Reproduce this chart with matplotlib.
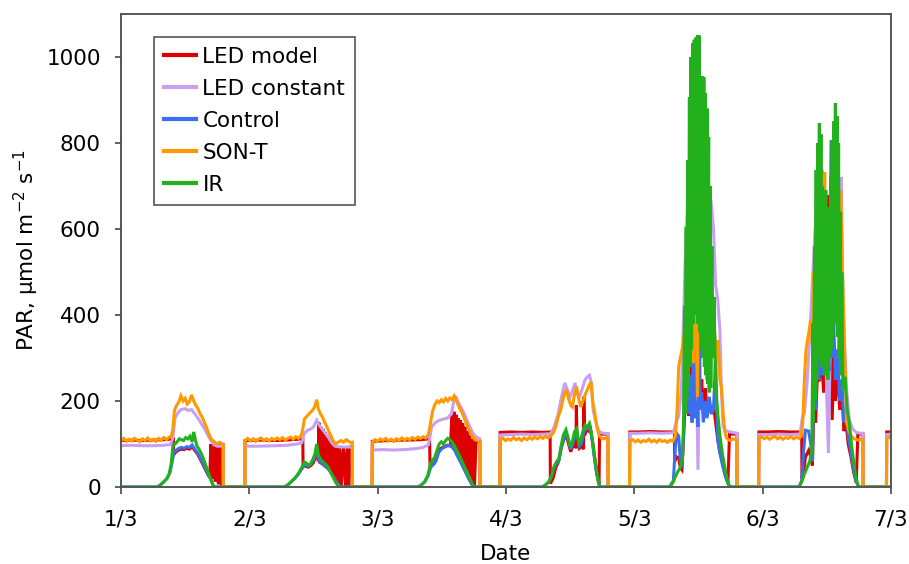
import numpy as np
import matplotlib
matplotlib.use("Agg")
import matplotlib.pyplot as plt

# ===============================
# Data: (hour since 1/3 00:00, PAR)
# ===============================
day_labels = ["1/3", "2/3", "3/3", "4/3", "5/3", "6/3", "7/3"]

led_model = [
    (0, 108), (2, 109), (4, 108), (6, 109), (8, 110), (9.8, 112), (9.85, 75), (10.3, 82), (10.8, 86),
    (11.3, 88), (11.8, 87), (12.3, 90), (12.8, 88), (13.3, 94), (13.8, 85), (14.3, 77), (14.8, 65),
    (15.3, 53), (15.8, 40), (16.3, 28), (16.6, 22), (16.8, 100), (17.0, 20), (17.3, 98), (17.6, 12),
    (17.9, 100), (18.2, 6), (18.5, 100), (18.8, 3), (19.0, 98), (19.1, 98), (19.12, 0), (23.18, 0),
    (23.2, 108), (26, 109), (29, 108), (32, 110), (34.0, 112), (34.05, 50), (34.5, 48), (35.0, 46),
    (35.5, 50), (36.0, 57), (36.4, 72), (36.7, 82), (36.9, 60), (37.0, 150), (37.2, 55), (37.4, 140),
    (37.6, 52), (37.8, 135), (38.0, 48), (38.2, 128), (38.4, 44), (38.6, 120), (38.8, 40), (39.0, 115),
    (39.2, 34), (39.4, 105), (39.6, 26), (39.8, 100), (40.0, 18), (40.3, 95), (40.6, 8), (40.9, 93),
    (41.2, 2), (41.6, 93), (42.0, 0), (42.3, 93), (42.6, 0), (42.9, 93), (43.25, 93), (43.27, 0),
    (46.95, 0), (47.0, 106), (50, 108), (53, 109), (56, 110), (57.7, 112), (57.8, 50), (58.2, 52),
    (58.6, 55), (59.1, 75), (59.6, 88), (60.1, 92), (60.6, 95), (61.1, 97), (61.6, 95), (61.9, 170),
    (62.1, 92), (62.3, 175), (62.5, 85), (62.7, 168), (62.9, 76), (63.1, 160), (63.3, 66), (63.5, 155),
    (63.7, 58), (63.9, 148), (64.1, 48), (64.3, 140), (64.5, 38), (64.7, 130), (64.9, 26), (65.1, 120),
    (65.3, 16), (65.5, 112), (65.7, 8), (65.9, 108), (66.1, 2), (66.4, 106), (67.12, 106), (67.14, 0),
    (70.85, 0), (70.9, 127), (73, 128), (75, 127), (77, 128), (79, 127), (80.25, 128), (80.3, 8),
    (80.8, 20), (81.3, 45), (81.8, 58), (82.3, 90), (82.8, 110), (83.3, 120), (83.7, 100), (84.1, 82),
    (84.5, 95), (84.9, 112), (85.1, 90), (85.15, 190), (85.3, 110), (85.7, 90), (86.1, 95), (86.5, 88),
    (86.55, 210), (86.7, 120), (87.0, 132), (87.4, 130), (87.8, 135), (88.2, 105), (88.6, 65),
    (89.0, 30), (89.4, 8), (89.5, 123), (91.05, 123), (91.08, 0), (95.1, 0), (95.15, 128), (97, 128),
    (99, 129), (101, 128), (103.5, 128), (103.55, 60), (103.9, 70), (104.3, 68), (104.6, 45),
    (104.9, 40), (105.2, 110), (105.5, 200), (105.7, 170), (106.0, 250), (106.2, 165), (106.5, 300),
    (106.8, 180), (107.1, 500), (107.3, 200), (107.5, 777), (107.7, 180), (108.0, 300), (108.3, 190),
    (108.6, 250), (108.9, 170), (109.3, 230), (109.6, 165), (110.0, 200), (110.4, 170), (110.8, 190),
    (111.2, 150), (111.6, 110), (112.0, 80), (112.5, 55), (113.0, 30), (113.5, 10), (113.8, 123),
    (115.18, 123), (115.2, 0), (119.25, 0), (119.3, 128), (121, 128), (123, 129), (125, 128),
    (127.3, 128), (127.35, 20), (127.7, 40), (128.0, 70), (128.6, 85), (129.0, 70), (129.3, 50),
    (129.6, 200), (129.9, 150), (130.2, 250), (130.6, 249), (131.0, 300), (131.4, 220), (131.7, 400),
    (132.1, 679), (132.3, 250), (132.6, 350), (133.0, 156), (133.3, 300), (133.6, 200), (134.0, 280),
    (134.4, 180), (134.8, 220), (135.2, 130), (135.6, 150), (136.0, 100), (136.5, 70), (137.0, 35),
    (137.5, 10), (137.8, 123), (138.75, 123), (138.78, 0), (143.15, 0), (143.2, 128), (144, 128),
]

led_constant = [
    (0, 96), (2, 97), (4, 96), (6, 96), (8, 97), (9.3, 99), (9.7, 115), (10.1, 160), (10.6, 172),
    (11.2, 180), (12.0, 182), (12.6, 178), (13.2, 180), (13.8, 170), (14.4, 160), (15.0, 148),
    (15.6, 136), (16.2, 122), (16.8, 108), (17.4, 98), (18.0, 95), (19.1, 95), (19.12, 0), (23.18, 0),
    (23.2, 95), (26, 95), (29, 96), (31, 97), (33, 100), (33.8, 103), (34.3, 125), (34.9, 132),
    (35.5, 135), (36.0, 140), (36.6, 155), (37.0, 145), (37.6, 135), (38.2, 125), (38.8, 115),
    (39.4, 103), (40.0, 95), (41, 93), (42, 93), (43.25, 93), (43.27, 0), (46.95, 0),
    (47.0, 86), (49, 87), (51, 86), (53, 87), (55, 89), (56.5, 92), (57.5, 98), (58.1, 140),
    (58.8, 150), (59.5, 155), (60.3, 158), (61.0, 160), (61.8, 170), (62.3, 205), (62.7, 208),
    (63.1, 196), (63.6, 185), (64.2, 170), (64.8, 152), (65.4, 135), (66.0, 122), (66.6, 115),
    (67.12, 112), (67.14, 0), (70.85, 0), (70.9, 121), (73, 122), (75, 123), (77, 122), (79, 123),
    (80.4, 124), (81.0, 140), (81.7, 167), (82.4, 210), (83.0, 242), (83.5, 225), (84.0, 210),
    (84.4, 222), (84.9, 242), (85.4, 215), (85.8, 212), (86.3, 230), (86.8, 250), (87.2, 256),
    (87.6, 260), (88.0, 240), (88.3, 179), (88.8, 150), (89.3, 132), (89.8, 126), (90.5, 125),
    (91.05, 124), (91.08, 0), (95.1, 0), (95.15, 125), (97, 125), (99, 126), (101, 125), (103.3, 126),
    (103.8, 150), (104.3, 165), (104.8, 226), (105.1, 350), (105.5, 520), (105.9, 650), (106.4, 720),
    (106.8, 760), (107.2, 600), (107.6, 300), (107.9, 40), (108.2, 300), (108.6, 700), (109.0, 760),
    (109.5, 700), (110.0, 690), (110.4, 660), (110.8, 600), (111.2, 470), (111.6, 435), (112.0, 365),
    (112.3, 220), (112.6, 140), (113.2, 130), (114.0, 128), (114.8, 126), (115.18, 125), (115.2, 0),
    (119.25, 0), (119.3, 122), (121, 122), (123, 123), (125, 122), (127.0, 123), (127.4, 160),
    (127.8, 172), (128.3, 240), (128.8, 350), (129.3, 480), (129.8, 600), (130.4, 650), (131.0, 600),
    (131.6, 450), (132.0, 200), (132.3, 79), (132.6, 300), (133.0, 550), (133.5, 650), (134.0, 690),
    (134.4, 700), (134.7, 721), (135.0, 442), (135.4, 300), (135.7, 226), (136.2, 156), (136.8, 135),
    (137.5, 127), (138.2, 125), (138.75, 125), (138.78, 0), (143.15, 0), (143.2, 122), (144, 123),
]

control = [
    (0, 0), (6.8, 0), (7.4, 5), (8.0, 12), (8.6, 20), (9.2, 35), (9.6, 60), (9.9, 80), (10.3, 85),
    (10.8, 90), (11.3, 92), (11.8, 90), (12.3, 94), (12.8, 92), (13.3, 98), (13.8, 88), (14.3, 80),
    (14.8, 68), (15.3, 56), (15.8, 42), (16.3, 30), (16.8, 18), (17.2, 5), (17.5, 0),
    (30.5, 0), (31.2, 5), (31.8, 12), (32.5, 20), (33.2, 30), (33.8, 42), (34.3, 50), (34.8, 48),
    (35.4, 52), (35.9, 60), (36.4, 75), (36.7, 85), (37.0, 62), (37.5, 55), (38.0, 50), (38.5, 45),
    (39.0, 38), (39.5, 28), (40.0, 18), (40.5, 8), (41.0, 0),
    (55.5, 0), (56.2, 5), (56.8, 12), (57.4, 25), (57.9, 45), (58.4, 52), (58.9, 60), (59.4, 80),
    (59.9, 88), (60.4, 92), (60.9, 95), (61.4, 97), (61.9, 93), (62.4, 85), (62.9, 72), (63.4, 60),
    (63.9, 48), (64.4, 35), (64.9, 22), (65.4, 10), (65.9, 0),
    (78.8, 0), (79.4, 5), (80.0, 12), (80.5, 25), (81.0, 45), (81.5, 55), (81.9, 62), (82.4, 95),
    (82.9, 115), (83.3, 125), (83.7, 108), (84.1, 88), (84.5, 100), (84.9, 120), (85.3, 125),
    (85.7, 95), (86.1, 100), (86.5, 125), (86.9, 138), (87.3, 135), (87.7, 140), (88.1, 110),
    (88.5, 70), (88.9, 35), (89.3, 10), (89.6, 0),
    (102.6, 0), (103.3, 15), (103.6, 80), (103.9, 125), (104.3, 118), (104.6, 60), (104.9, 47),
    (105.2, 120), (105.5, 326), (105.7, 180), (106.0, 300), (106.2, 170), (106.5, 260), (106.8, 150),
    (107.1, 400), (107.3, 160), (107.6, 200), (107.9, 140), (108.1, 660), (108.3, 180), (108.6, 220),
    (108.9, 150), (109.3, 200), (109.6, 160), (110.0, 210), (110.4, 170), (110.8, 180), (111.2, 300),
    (111.6, 110), (112.0, 80), (112.5, 50), (113.0, 25), (113.5, 8), (114.0, 0),
    (126.8, 0), (127.3, 15), (127.7, 90), (128.0, 132), (128.6, 130), (129.0, 100), (129.3, 60),
    (129.6, 250), (129.9, 180), (130.2, 300), (130.5, 249), (130.8, 350), (131.1, 260), (131.4, 400),
    (131.7, 300), (132.0, 350), (132.4, 270), (132.8, 807), (133.0, 300), (133.3, 380), (133.6, 250),
    (134.0, 320), (134.4, 200), (134.8, 250), (135.2, 150), (135.6, 180), (136.0, 120), (136.5, 80),
    (137.0, 40), (137.5, 12), (138.0, 0), (144, 0),
]

son_t = [
    (0.0, 108), (0.5, 113), (1.0, 106), (1.5, 111), (2.0, 107), (2.5, 113), (3.0, 109), (3.5, 105),
    (4.0, 112), (4.5, 108), (5.0, 114), (5.5, 107), (6.0, 111), (6.5, 106), (7.0, 113), (7.5, 109),
    (8.0, 115), (8.5, 110), (9.0, 116), (9.4, 118), (9.7, 135), (10.0, 178), (10.4, 190), (10.8, 197),
    (11.2, 212), (11.6, 200), (12.0, 206), (12.4, 193), (12.8, 199), (13.2, 214), (13.6, 200),
    (14.0, 190), (14.4, 182), (14.8, 170), (15.2, 162), (15.6, 150), (16.0, 138), (16.4, 124),
    (16.8, 113), (17.2, 108), (17.6, 103), (18.0, 100), (18.4, 104), (18.8, 101), (19.1, 100),
    (19.12, 0), (23.18, 0),
    (23.2, 108), (23.7, 113), (24.2, 107), (24.7, 112), (25.2, 106), (25.7, 111), (26.2, 114),
    (26.7, 108), (27.2, 112), (27.7, 107), (28.2, 113), (28.7, 109), (29.2, 114), (29.7, 110),
    (30.2, 115), (30.7, 109), (31.2, 113), (31.7, 116), (32.2, 111), (32.7, 117), (33.2, 113),
    (33.7, 120), (34.0, 135), (34.3, 158), (34.8, 165), (35.3, 172), (35.8, 178), (36.2, 186),
    (36.6, 203), (36.9, 182), (37.3, 170), (37.7, 162), (38.1, 150), (38.5, 140), (38.9, 128),
    (39.3, 118), (39.7, 107), (40.1, 100), (40.6, 104), (41.1, 108), (41.6, 104), (42.1, 110),
    (42.6, 106), (43.0, 103), (43.25, 104), (43.27, 0), (46.95, 0),
    (47.0, 104), (47.5, 110), (48.0, 106), (48.5, 112), (49.0, 108), (49.5, 113), (50.0, 107),
    (50.5, 111), (51.0, 106), (51.5, 112), (52.0, 108), (52.5, 114), (53.0, 109), (53.5, 113),
    (54.0, 110), (54.5, 115), (55.0, 111), (55.5, 116), (56.0, 113), (56.5, 117), (57.0, 114),
    (57.5, 122), (57.9, 150), (58.3, 178), (58.7, 192), (59.1, 200), (59.5, 196), (59.9, 203),
    (60.3, 198), (60.7, 206), (61.1, 200), (61.5, 207), (61.9, 203), (62.3, 212), (62.6, 205),
    (63.0, 192), (63.4, 182), (63.8, 172), (64.2, 160), (64.6, 148), (65.0, 136), (65.4, 124),
    (65.8, 116), (66.2, 110), (66.6, 108), (67.12, 106), (67.14, 0), (70.85, 0),
    (70.9, 110), (71.4, 114), (71.9, 108), (72.4, 112), (72.9, 109), (73.4, 115), (73.9, 110),
    (74.4, 113), (74.9, 108), (75.4, 114), (75.9, 110), (76.4, 115), (76.9, 111), (77.4, 116),
    (77.9, 112), (78.4, 117), (78.9, 113), (79.4, 118), (79.9, 114), (80.4, 119), (80.8, 125),
    (81.3, 140), (81.8, 165), (82.3, 182), (82.8, 212), (83.3, 226), (83.7, 205), (84.1, 190),
    (84.4, 186), (84.8, 215), (85.2, 233), (85.6, 205), (86.0, 186), (86.4, 200), (86.8, 215),
    (87.2, 226), (87.6, 238), (87.9, 244), (88.2, 200), (88.6, 172), (89.0, 140), (89.4, 120),
    (89.8, 114), (90.3, 112), (90.8, 115), (91.05, 113), (91.08, 0), (95.1, 0),
    (95.15, 107), (95.7, 110), (96.2, 105), (96.7, 109), (97.2, 104), (97.7, 108), (98.2, 106),
    (98.7, 111), (99.2, 105), (99.7, 109), (100.2, 104), (100.7, 110), (101.2, 106), (101.7, 108),
    (102.2, 104), (102.7, 109), (103.2, 106), (103.7, 120), (104.0, 180), (104.3, 280), (104.6, 300),
    (104.9, 318), (105.2, 340), (105.5, 380), (105.8, 300), (106.0, 560), (106.3, 680), (106.5, 767),
    (106.7, 777), (106.9, 400), (107.1, 288), (107.4, 713), (107.6, 500), (107.8, 210), (108.1, 650),
    (108.3, 400), (108.6, 520), (108.9, 300), (109.2, 470), (109.5, 249), (109.8, 420), (110.1, 300),
    (110.4, 365), (110.7, 330), (111.0, 365), (111.4, 290), (111.7, 342), (112.0, 249), (112.3, 230),
    (112.6, 172), (112.9, 130), (113.2, 115), (113.6, 110), (114.0, 108), (114.5, 112), (115.0, 110),
    (115.18, 108), (115.2, 0), (119.25, 0),
    (119.3, 113), (119.8, 117), (120.3, 112), (120.8, 116), (121.3, 111), (121.8, 115), (122.3, 118),
    (122.8, 112), (123.3, 116), (123.8, 111), (124.3, 115), (124.8, 113), (125.3, 117), (125.8, 112),
    (126.3, 116), (126.8, 113), (127.2, 118), (127.5, 149), (127.8, 250), (128.1, 319), (128.5, 350),
    (129.0, 388), (129.3, 330), (129.6, 500), (129.9, 420), (130.2, 600), (130.5, 480), (130.8, 680),
    (131.1, 737), (131.3, 500), (131.6, 732), (131.9, 450), (132.2, 620), (132.5, 400), (132.8, 700),
    (133.1, 500), (133.4, 807), (133.7, 600), (134.0, 720), (134.3, 650), (134.6, 690), (134.9, 520),
    (135.2, 381), (135.5, 250), (135.7, 149), (136.1, 130), (136.6, 118), (137.1, 112), (137.6, 110),
    (138.0, 109), (138.5, 112), (138.75, 110), (138.78, 0), (143.15, 0),
    (143.2, 112), (143.6, 116), (144, 114),
]

ir = [
    (0, 0), (6.8, 0), (7.4, 5), (8.0, 12), (8.6, 20), (9.0, 30), (9.4, 55), (9.7, 95), (10.1, 100),
    (10.5, 105), (10.9, 112), (11.3, 110), (11.7, 108), (12.1, 115), (12.5, 112), (12.9, 118),
    (13.3, 105), (13.6, 128), (13.9, 110), (14.2, 95), (14.6, 88), (15.0, 78), (15.4, 66), (15.8, 52),
    (16.2, 38), (16.6, 24), (17.0, 10), (17.4, 0),
    (30.5, 0), (31.2, 5), (31.8, 12), (32.5, 20), (33.2, 32), (33.8, 45), (34.3, 58), (34.7, 55),
    (35.1, 50), (35.5, 55), (35.9, 65), (36.3, 78), (36.6, 100), (36.9, 75), (37.3, 65), (37.7, 60),
    (38.1, 55), (38.5, 50), (38.9, 42), (39.3, 32), (39.7, 22), (40.1, 12), (40.5, 4), (40.9, 0),
    (55.5, 0), (56.2, 5), (56.8, 12), (57.4, 28), (57.9, 55), (58.3, 62), (58.7, 70), (59.1, 85),
    (59.5, 100), (59.9, 105), (60.3, 100), (60.7, 108), (61.1, 113), (61.5, 110), (61.9, 105),
    (62.3, 97), (62.7, 88), (63.1, 78), (63.5, 68), (63.9, 56), (64.3, 45), (64.7, 35), (65.1, 24),
    (65.5, 12), (65.9, 3), (66.2, 0),
    (78.8, 0), (79.4, 5), (80.0, 12), (80.5, 25), (81.0, 48), (81.5, 60), (81.9, 65), (82.3, 95),
    (82.7, 120), (83.2, 133), (83.6, 115), (84.0, 93), (84.4, 105), (84.8, 128), (85.2, 135),
    (85.6, 102), (86.0, 110), (86.4, 130), (86.8, 144), (87.2, 140), (87.6, 148), (87.9, 130),
    (88.3, 95), (88.7, 60), (89.1, 25), (89.4, 5), (89.6, 0),
    (102.6, 0), (103.2, 10), (103.6, 22), (104.1, 35), (104.6, 45), (105.0, 65), (105.2, 150),
    (105.4, 420), (105.5, 170), (105.7, 605), (105.8, 200), (106.0, 760), (106.1, 230), (106.3, 907),
    (106.4, 280), (106.6, 1000), (106.7, 320), (106.9, 1032), (107.0, 380), (107.2, 1040),
    (107.3, 400), (107.5, 1045), (107.6, 420), (107.8, 1051), (107.9, 380), (108.1, 1050),
    (108.2, 360), (108.4, 946), (108.5, 320), (108.7, 955), (108.8, 300), (109.0, 953), (109.1, 280),
    (109.3, 916), (109.4, 260), (109.6, 880), (109.7, 240), (109.9, 814), (110.0, 220), (110.2, 700),
    (110.3, 230), (110.5, 560), (110.7, 300), (110.9, 442), (111.2, 230), (111.6, 170), (112.0, 120),
    (112.5, 75), (113.0, 40), (113.4, 15), (113.8, 0),
    (126.8, 0), (127.3, 12), (127.8, 30), (128.3, 45), (128.8, 60), (129.2, 86), (129.4, 380),
    (129.5, 150), (129.7, 560), (129.8, 200), (130.0, 737), (130.1, 250), (130.3, 800), (130.4, 300),
    (130.6, 846), (130.7, 320), (130.9, 820), (131.0, 280), (131.2, 700), (131.3, 300), (131.5, 650),
    (131.6, 260), (131.8, 690), (131.9, 280), (132.1, 600), (132.2, 250), (132.4, 650), (132.5, 300),
    (132.7, 720), (132.8, 320), (133.0, 807), (133.1, 350), (133.3, 850), (133.4, 380), (133.6, 893),
    (133.7, 400), (133.9, 863), (134.0, 350), (134.2, 800), (134.3, 300), (134.5, 640), (134.6, 260),
    (134.8, 500), (135.0, 226), (135.4, 256), (135.8, 180), (136.2, 149), (136.6, 100), (137.0, 60),
    (137.4, 25), (137.8, 5), (138.0, 0), (144, 0),
]

series = [
    ("LED model", led_model, "#dd0000"),
    ("LED constant", led_constant, "#c8a0f2"),
    ("Control", control, "#3b6ff0"),
    ("SON-T", son_t, "#ff9900"),
    ("IR", ir, "#22b01c"),
]

# ===============================
# Plot
# ===============================
plt.rcParams["font.family"] = ["DejaVu Sans"]
plt.rcParams["mathtext.default"] = "regular"

fig = plt.figure(figsize=(9.09, 5.64), dpi=100)
ax = fig.add_axes([121 / 909, 77 / 564, 770 / 909, 473 / 564])

for name, pts, color in series:
    t, v = zip(*pts)
    ax.plot(np.array(t) / 24.0, v, color=color, lw=2.2, label=name,
            solid_joinstyle="miter")

ax.set_xlim(0, 6)
ax.set_ylim(0, 1100)
ax.set_xticks(range(7))
ax.set_xticklabels(day_labels)
ax.set_yticks(range(0, 1001, 200))
ax.tick_params(axis="both", labelsize=15.5, direction="out", color="#555555", width=1.3)
ax.tick_params(axis="x", length=5, pad=11.5)
ax.tick_params(axis="y", length=4.5, pad=10)
for sp in ax.spines.values():
    sp.set_color("#555555")
    sp.set_linewidth(1.4)

ax.set_xlabel("Date", fontsize=15.5, labelpad=10)
ax.set_ylabel(r"PAR, μmol m$^{-2}$ s$^{-1}$", fontsize=15.5, labelpad=3.5)

leg = ax.legend(loc="upper left", bbox_to_anchor=(33 / 770, 450 / 473), borderaxespad=0,
                fontsize=15.5, frameon=True, fancybox=False, framealpha=1,
                edgecolor="#555555", handlelength=1.5, handletextpad=0.3,
                labelspacing=0.56, borderpad=0.45)
leg.get_frame().set_linewidth(1.2)
for line in leg.get_lines():
    line.set_linewidth(3)

fig.savefig("out.png", dpi=100)
